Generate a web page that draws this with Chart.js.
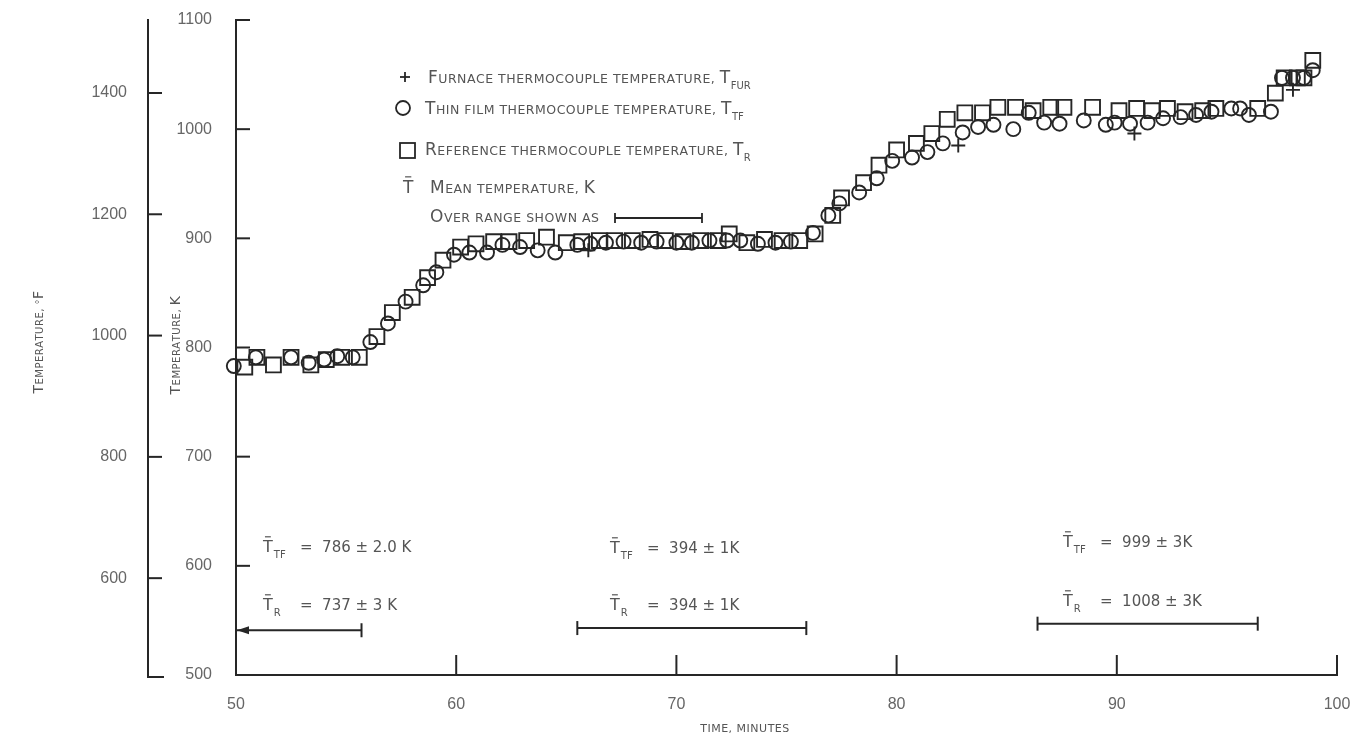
<!DOCTYPE html>
<html>
<head>
<meta charset="utf-8">
<script src="https://cdn.jsdelivr.net/npm/chart.js@4.4.0/dist/chart.umd.min.js"></script>
<style>
  html, body { margin: 0; padding: 0; background: #fff; overflow: hidden; }
  canvas { display: block; }
</style>
</head>
<body>
<canvas id="myChart" width="1367" height="749" style="width:1367px;height:749px"></canvas>
<script>
// ---------------- data ----------------
const timeTF = [49.9, 50.9, 52.5, 53.3, 54.0, 54.6, 55.3, 56.1, 56.9, 57.7, 58.5, 59.1, 59.9, 60.6, 61.4,
  62.1, 62.9, 63.7, 64.5, 65.5, 66.1, 66.8, 67.6, 68.4, 69.1, 70.0, 70.7, 71.5, 72.3, 72.9, 73.7, 74.5, 75.2,
  76.2, 76.9, 77.4, 78.3, 79.1, 79.8, 80.7, 81.4, 82.1, 83.0, 83.7, 84.4, 85.3, 86.0, 86.7, 87.4, 88.5,
  89.5, 89.9, 90.6, 91.4, 92.1, 92.9, 93.6, 94.3, 95.2, 95.6, 96.0, 97.0, 97.5, 98.0, 98.5, 98.9];
const tempTF = [783, 791, 791, 786, 789, 792, 791, 805, 822, 842, 857, 869, 885, 887, 887,
  894, 892, 889, 887, 894, 895, 896, 897, 896, 897, 896, 896, 898, 898, 898, 895, 896, 897,
  905, 921, 932, 942, 955, 971, 974, 979, 987, 997, 1002, 1004, 1000, 1015, 1006, 1005, 1008,
  1004, 1006, 1005, 1006, 1010, 1011, 1013, 1016, 1019, 1019, 1013, 1016, 1047, 1047, 1047, 1054];

const timeR = [50.4, 50.95, 51.7, 52.5, 53.4, 54.1, 54.8, 55.6, 56.4, 57.1, 58.0, 58.7, 59.4, 60.2, 60.9, 61.7,
  62.4, 63.2, 64.1, 65.0, 65.7, 66.5, 67.2, 68.0, 68.8, 69.5, 70.3, 71.1, 71.9, 72.4, 73.2, 74.0, 74.8, 75.6,
  76.3, 77.1, 77.5, 78.5, 79.2, 80.0, 80.9, 81.6, 82.3, 83.1, 83.9, 84.6, 85.4, 86.2, 87.0, 87.6, 88.9,
  90.1, 90.9, 91.6, 92.3, 93.1, 93.9, 94.5, 96.4, 97.2, 97.6, 98.2, 98.5, 98.9];
const tempR = [782, 791, 784, 791, 784, 789, 791, 791, 810, 832, 846, 864, 880, 892, 895, 897,
  897, 898, 901, 896, 897, 898, 898, 898, 899, 898, 897, 898, 898, 904, 896, 899, 898, 898,
  904, 921, 937, 951, 967, 981, 987, 996, 1009, 1015, 1015, 1020, 1020, 1017, 1020, 1020, 1020,
  1017, 1019, 1017, 1019, 1016, 1017, 1019, 1019, 1033, 1047, 1047, 1047, 1063];

const timeFur = [66.0, 82.8, 90.8, 98.0];
const tempFur = [889, 985, 996, 1036];

// mean-temperature ranges (minutes) and the level (K) where the bar sits
const rangeStart = [50, 65.5, 86.4];
const rangeEnd = [55.7, 75.9, 96.4];
const rangeLevel = [541, 543, 547];
const meanTF = ['786 \u00b1 2.0 K', '394 \u00b1 1K', '999 \u00b1 3K'];
const meanR = ['737 \u00b1 3 K', '394 \u00b1 1K', '1008 \u00b1 3K'];

const xTicks = [50, 60, 70, 80, 90, 100];
const kTicks = [500, 600, 700, 800, 900, 1000, 1100];
const fTicks = [600, 800, 1000, 1200, 1400];

const kToF = k => (k - 273.15) * 1.8 + 32;
const pairs = (xs, ys) => xs.map((t, i) => ({x: t, y: ys[i]}));

const ink = '#262626';
const grey = '#555';
const fam = '"DejaVu Sans", sans-serif';
const tickFont = {family: '"Liberation Sans", Arial, sans-serif', size: 16};
const plain = v => String(v);

//-------------------- text helpers -------------------
function smallCaps(ctx, str, x, y, big, small) {
  let cx = x;
  for (const ch of str) {
    const isCap = ch !== ch.toLowerCase();
    ctx.font = (isCap ? big : small) + 'px ' + fam;
    const c = ch.toUpperCase();
    ctx.fillText(c, cx, y);
    cx += ctx.measureText(c).width + 0.5;
  }
  return cx;
}
function capsWidth(ctx, str, big, small) {
  let w = 0;
  for (const ch of str) {
    const isCap = ch !== ch.toLowerCase();
    ctx.font = (isCap ? big : small) + 'px ' + fam;
    w += ctx.measureText(ch.toUpperCase()).width + 0.5;
  }
  return w;
}
function tBar(ctx, x, y, size) {
  // a T with a mean bar above it
  ctx.font = size + 'px ' + fam;
  ctx.fillText('T', x, y);
  const w = ctx.measureText('T').width;
  ctx.beginPath();
  ctx.moveTo(x + w * 0.2, y - size * 0.95);
  ctx.lineTo(x + w * 0.8, y - size * 0.95);
  ctx.lineWidth = 1.2;
  ctx.stroke();
  return x + w;
}
function line(ctx, x1, y1, x2, y2) {
  ctx.beginPath(); ctx.moveTo(x1, y1); ctx.lineTo(x2, y2); ctx.stroke();
}

//-------------------- extra drawing: inward ticks, ranges, legend, notes -------------------
const extras = {
  id: 'extras',
  afterDraw(chart) {
    const {ctx, chartArea: a, scales: {x, y, yF}} = chart;
    ctx.save();
    ctx.strokeStyle = ink;
    ctx.lineWidth = 2;
    kTicks.forEach(v => {
      if (v === 500) return;
      const py = y.getPixelForValue(v);
      line(ctx, a.left, py, a.left + 14, py);
    });
    fTicks.forEach(v => {
      const py = yF.getPixelForValue(v);
      line(ctx, yF.right, py, yF.right + 14, py);
    });
    line(ctx, yF.right - 1, yF.bottom + 2, yF.right + 16, yF.bottom + 2);
    xTicks.forEach(v => {
      if (v === 50) return;
      const px = x.getPixelForValue(v);
      line(ctx, px, a.bottom, px, a.bottom - 20);
    });

    // range bars
    rangeStart.forEach((s, i) => {
      const x1 = x.getPixelForValue(s), x2 = x.getPixelForValue(rangeEnd[i]);
      const py = y.getPixelForValue(rangeLevel[i]);
      ctx.lineWidth = 2;
      line(ctx, x1, py, x2, py);
      line(ctx, x2, py - 7, x2, py + 7);
      if (i === 0) {
        ctx.beginPath();
        ctx.moveTo(x1 + 1, py);
        ctx.lineTo(x1 + 13, py - 4);
        ctx.lineTo(x1 + 13, py + 4);
        ctx.closePath();
        ctx.fillStyle = ink;
        ctx.fill();
      } else {
        line(ctx, x1, py - 7, x1, py + 7);
      }
    });

    // mean notes
    ctx.fillStyle = grey;
    ctx.strokeStyle = grey;
    ctx.textBaseline = 'alphabetic';
    ctx.textAlign = 'left';
    const noteX = [263, 610, 1063];
    const noteY1 = [552, 553, 547];
    const noteY2 = [610, 610, 606];
    noteX.forEach((nx, i) => {
      let e = tBar(ctx, nx, noteY1[i], 16);
      ctx.font = '10px ' + fam;
      ctx.fillText('TF', e + 1, noteY1[i] + 6);
      ctx.font = '15px ' + fam;
      ctx.fillText('=  ' + meanTF[i], nx + 37, noteY1[i]);
      e = tBar(ctx, nx, noteY2[i], 16);
      ctx.font = '10px ' + fam;
      ctx.fillText('R', e + 1, noteY2[i] + 6);
      ctx.font = '15px ' + fam;
      ctx.fillText('=  ' + meanR[i], nx + 37, noteY2[i]);
    });

    // legend
    ctx.strokeStyle = ink;
    ctx.lineWidth = 1.8;
    line(ctx, 400, 77, 410, 77); line(ctx, 405, 72, 405, 82);
    ctx.beginPath(); ctx.arc(403, 108, 7, 0, Math.PI * 2); ctx.stroke();
    ctx.strokeRect(400, 143, 15, 15);
    ctx.fillStyle = grey;
    ctx.strokeStyle = grey;
    let e = smallCaps(ctx, 'Furnace thermocouple temperature, T', 428, 83, 17, 12.5);
    ctx.font = '10px ' + fam; ctx.fillText('FUR', e, 89);
    e = smallCaps(ctx, 'Thin film thermocouple temperature, T', 425, 114, 17, 12.5);
    ctx.font = '10px ' + fam; ctx.fillText('TF', e, 120);
    e = smallCaps(ctx, 'Reference thermocouple temperature, T', 425, 155, 17, 12.5);
    ctx.font = '10px ' + fam; ctx.fillText('R', e, 161);
    tBar(ctx, 403, 193, 17);
    smallCaps(ctx, 'Mean temperature, K', 430, 193, 17, 12.5);
    smallCaps(ctx, 'Over range shown as', 430, 222, 17, 12.5);
    ctx.strokeStyle = ink;
    ctx.lineWidth = 1.8;
    line(ctx, 615, 218, 702, 218);
    line(ctx, 615, 213, 615, 223);
    line(ctx, 702, 213, 702, 223);

    // axis titles
    ctx.fillStyle = grey;
    [[175, 345, 'Temperature, K'], [38, 342, 'Temperature, \u00b0F']].forEach(([tx, ty, s]) => {
      ctx.save();
      ctx.translate(tx, ty);
      ctx.rotate(-Math.PI / 2);
      const w = capsWidth(ctx, s, 14, 10);
      smallCaps(ctx, s, -w / 2, 5, 14, 10);
      ctx.restore();
    });
    const tw = capsWidth(ctx, 'TIME, MINUTES', 11, 11);
    smallCaps(ctx, 'TIME, MINUTES', 745 - tw / 2, 732, 11, 11);
    ctx.restore();
  }
};

//-------------------- chart setup -------------------
const ctx = document.getElementById('myChart');
const markerStyle = {
  backgroundColor: 'rgba(0,0,0,0)',
  borderColor: ink,
  borderWidth: 1.9,
  clip: false
};
// vertical axes: fixed width, no extra room reserved above/below for labels
const fixWidth = w => s => { s.width = w; s.paddingTop = 0; s.paddingBottom = 0; };
const chart = new Chart(ctx, {
  type: 'scatter',
  data: {
    datasets: [
      {...markerStyle, label: 'Furnace', data: pairs(timeFur, tempFur), pointStyle: 'cross', pointRadius: 7},
      {...markerStyle, label: 'Thin film', data: pairs(timeTF, tempTF), pointStyle: 'circle', pointRadius: 7},
      {...markerStyle, label: 'Reference', data: pairs(timeR, tempR), pointStyle: 'rect', pointRadius: 10.5}
    ]
  },
  options: {
    responsive: false,
    animation: false,
    layout: {padding: {left: 0, right: 30, top: 20, bottom: 0}},
    plugins: {legend: {display: false}, tooltip: {enabled: false}},
    scales: {
      x: {
        type: 'linear', min: 50, max: 100,
        afterBuildTicks: s => { s.ticks = xTicks.map(v => ({value: v})); },
        afterFit: s => { s.height = 74; s.paddingLeft = 0; s.paddingRight = 0; },
        grid: {display: false},
        border: {display: true, color: ink, width: 2},
        ticks: {color: '#666', font: tickFont, padding: 12, maxRotation: 0, callback: plain}
      },
      y: {
        position: 'left', weight: 0, min: 500, max: 1100,
        afterBuildTicks: s => { s.ticks = kTicks.map(v => ({value: v})); },
        afterFit: fixWidth(88),
        grid: {display: false},
        border: {display: true, color: ink, width: 2},
        ticks: {color: '#666', font: tickFont, padding: 16, callback: plain}
      },
      yF: {
        position: 'left', weight: 1, min: kToF(500), max: kToF(1100),
        afterBuildTicks: s => { s.ticks = fTicks.map(v => ({value: v})); },
        afterFit: fixWidth(148),
        grid: {display: false},
        border: {display: true, color: ink, width: 2},
        ticks: {color: '#666', font: tickFont, padding: 13, callback: plain}
      }
    }
  },
  plugins: [extras]
});
</script>
</body>
</html>
